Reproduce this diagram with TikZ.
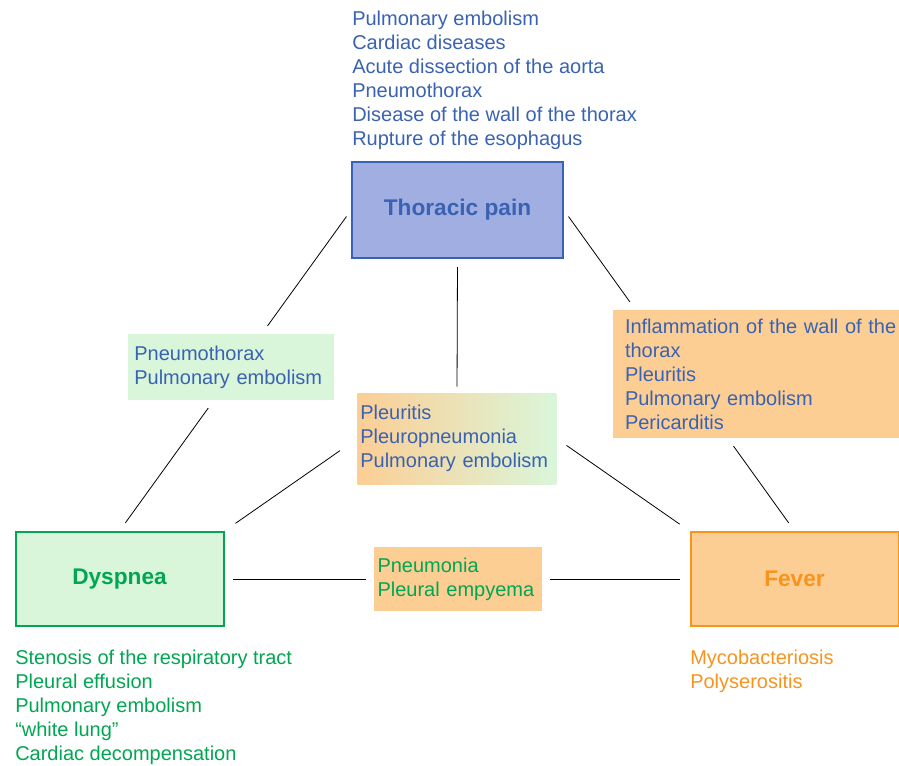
\documentclass[tikz,border=0pt]{standalone}
\usepackage{fontspec}
\setmainfont{Liberation Sans}

\definecolor{txtblue}{RGB}{58,98,178}
\definecolor{txtgreen}{RGB}{0,166,81}
\definecolor{txtorange}{RGB}{247,148,29}
\definecolor{painfill}{RGB}{160,174,226}
\definecolor{greenfill}{RGB}{218,246,218}
\definecolor{orangefill}{RGB}{252,206,148}

\begin{document}
\begin{tikzpicture}[x=0.75pt,y=-0.75pt,
  every node/.style={font=\fontsize{15}{18}\selectfont},
  symptom/.style={draw, line width=1.5pt, font=\fontsize{17}{20}\selectfont\bfseries,
    minimum width=156pt, minimum height=70.5pt},
  causes/.style={align=left, anchor=north west, inner sep=0pt},
  overlap/.style={align=left, inner ysep=0pt, preaction={draw=white, line width=12pt}},
  link/.style={line width=0.6pt}]
\useasboundingbox (0,0) rectangle (899,765);

% the three symptoms
\node[symptom, draw=txtblue, fill=painfill, text=txtblue, minimum width=158pt, minimum height=72pt]
  (pain) at (457.5,210) {Thoracic pain};
\node[symptom, draw=txtgreen, fill=greenfill, text=txtgreen] (dysp) at (119.5,579) {Dyspnea};
\node[symptom, draw=txtorange, fill=orangefill, text=txtorange] (fever) at (794.5,579) {Fever};

% causes of each symptom alone
\node[causes, text=txtblue] (painlist) at (352,10.5) {Pulmonary embolism\\Cardiac diseases\\
  Acute dissection of the aorta\\Pneumothorax\\Disease of the wall of the thorax\\
  Rupture of the esophagus};
\node[causes, text=txtgreen] (dysplist) at (15,649.5) {Stenosis of the respiratory tract\\
  Pleural effusion\\Pulmonary embolism\\“white lung”\\Cardiac decompensation};
\node[causes, text=txtorange] (feverlist) at (690,649.5) {Mycobacteriosis\\Polyserositis};

% all three
\node[align=left, text=txtblue, left color=orangefill, right color=greenfill,
  text width=145pt, inner xsep=2pt, minimum height=68.25pt] (all) at (457,438.5)
  {Pleuritis\\Pleuropneumonia\\Pulmonary embolism};

\draw[link, shorten <=6pt, shorten >=7.5pt] (pain.west) -- (dysp.north);
\draw[link, shorten <=6pt, shorten >=7.5pt] (pain.east) -- (fever.north);
\draw[link, shorten <=6pt, shorten >=7.5pt] (dysp.east) -- (fever.west);
\draw[link, shorten <=6pt, shorten >=4.5pt] (pain.south) -- (all.north);
\draw[link, shorten <=10pt, shorten >=16pt] (dysp.north east) -- (all.west);
\draw[link, shorten <=9pt, shorten >=9pt] (fever.north west) -- (all.east);

% two of the three
\node[overlap, text=txtblue, fill=greenfill, text width=145pt, inner xsep=5pt,
  minimum height=49.5pt] (paindysp) at (231,367) {Pneumothorax\\Pulmonary embolism};
\node[overlap, text=txtblue, fill=orangefill, text width=222pt, inner xsep=9pt,
  minimum height=96pt] (painfever) at (773,374)
  {Inflammation of the wall of the\\thorax\\Pleuritis\\Pulmonary embolism\\Pericarditis};
\node[overlap, text=txtgreen, fill=orangefill, text width=120pt, inner xsep=3pt,
  minimum height=48pt] (dyspfever) at (457.5,579) {Pneumonia\\Pleural empyema};
\end{tikzpicture}
\end{document}
